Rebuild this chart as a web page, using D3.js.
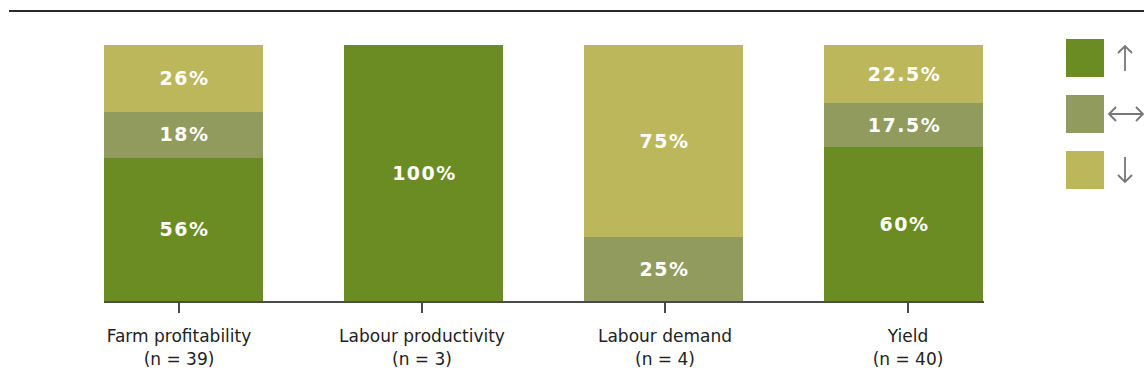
<!DOCTYPE html>
<html>
<head>
<meta charset="utf-8">
<script src="https://cdn.jsdelivr.net/npm/d3@7"></script>
<style>
  html, body { margin: 0; padding: 0; background: #fff; }
  svg { display: block; }
</style>
</head>
<body>
<svg id="chart" width="1144" height="392"></svg>
<script>
// Outcome categories and sample sizes
const categories = ["Farm profitability", "Labour productivity", "Labour demand", "Yield"];
const sampleSizes = [39, 3, 4, 40];

// Share of studies (%) per direction of effect, bottom to top in each bar
const increase = [56, 100, 0, 60];
const noChange = [18, 0, 25, 17.5];
const decrease = [26, 0, 75, 22.5];

const seriesKeys = ["increase", "noChange", "decrease"];
const seriesColors = ["#6b8b23", "#919b5d", "#bdb75b"];

const rows = categories.map((c, i) => ({
  category: c,
  n: sampleSizes[i],
  increase: increase[i],
  noChange: noChange[i],
  decrease: decrease[i]
}));

const svg = d3.select("#chart");

// Rule across the top
svg.append("line")
  .attr("x1", 9).attr("x2", 1144)
  .attr("y1", 11).attr("y2", 11)
  .attr("stroke", "#2a2a2a").attr("stroke-width", 2);

// Scales
const xBars = d3.scaleBand().domain(categories).range([104, 983]).paddingInner(0.3375).paddingOuter(0);
const xTicks = d3.scaleBand().domain(categories).range([57.5, 1029.5]);
const y = d3.scaleLinear().domain([0, 100]).range([301, 45]);
const color = d3.scaleOrdinal().domain(seriesKeys).range(seriesColors);

const stacked = d3.stack().keys(seriesKeys)(rows);

const layers = svg.append("g")
  .attr("shape-rendering", "crispEdges")
  .selectAll("g")
  .data(stacked)
  .join("g")
  .attr("fill", d => color(d.key));

layers.selectAll("rect")
  .data(d => d.filter(s => s[1] - s[0] > 0))
  .join("rect")
  .attr("x", d => xBars(d.data.category))
  .attr("width", xBars.bandwidth())
  .attr("y", d => y(d[1]))
  .attr("height", d => y(d[0]) - y(d[1]));

// Value labels centred in each segment
const labels = svg.append("g")
  .attr("font-family", "'DejaVu Sans', sans-serif")
  .attr("font-weight", "bold")
  .attr("font-size", 19)
  .attr("letter-spacing", 1.5)
  .attr("fill", "#fff")
  .attr("text-anchor", "middle");

stacked.forEach(layer => {
  labels.selectAll(null)
    .data(layer.filter(s => s[1] - s[0] > 0))
    .join("text")
    .attr("x", d => xBars(d.data.category) + xBars.bandwidth() / 2 + 1)
    .attr("y", d => (y(d[0]) + y(d[1])) / 2)
    .attr("dy", "0.36em")
    .text(d => (d[1] - d[0]) + "%");
});

// Bottom axis
const axis = svg.append("g");
axis.append("line")
  .attr("x1", 104).attr("x2", 984)
  .attr("y1", 302).attr("y2", 302)
  .attr("stroke", "#4a4a4a").attr("stroke-width", 2);

const tickG = axis.selectAll("g.tick")
  .data(categories)
  .join("g")
  .attr("class", "tick")
  .attr("transform", d => `translate(${xTicks(d) + xTicks.bandwidth() / 2},0)`);

tickG.append("line")
  .attr("y1", 302).attr("y2", 313)
  .attr("stroke", "#4a4a4a").attr("stroke-width", 2);

const tickText = tickG.append("text")
  .attr("text-anchor", "middle")
  .attr("font-family", "'DejaVu Sans', sans-serif")
  .attr("font-size", 17)
  .attr("fill", "#222");

tickText.append("tspan").attr("x", 0).attr("y", 342)
  .text(d => d);
tickText.append("tspan").attr("x", 0).attr("y", 365)
  .text((d, i) => `(n = ${sampleSizes[i]})`);

// Legend
const legendY = d3.scaleBand().domain(seriesKeys).range([39, 207]);
const legend = svg.append("g").selectAll("g")
  .data(seriesKeys)
  .join("g")
  .attr("transform", d => `translate(1066,${legendY(d)})`);

legend.append("rect")
  .attr("width", 38).attr("height", 38)
  .attr("fill", d => color(d));

const arrowPaths = {
  increase: "M59,7 L59,32 M52,14 L59,7 L66,14",
  noChange: "M43,19 L77,19 M50,12 L43,19 L50,26 M70,12 L77,19 L70,26",
  decrease: "M59,6 L59,31 M52,24 L59,31 L66,24"
};

legend.append("path")
  .attr("d", d => arrowPaths[d])
  .attr("fill", "none")
  .attr("stroke", "#777")
  .attr("stroke-width", 1.8);
</script>
</body>
</html>
